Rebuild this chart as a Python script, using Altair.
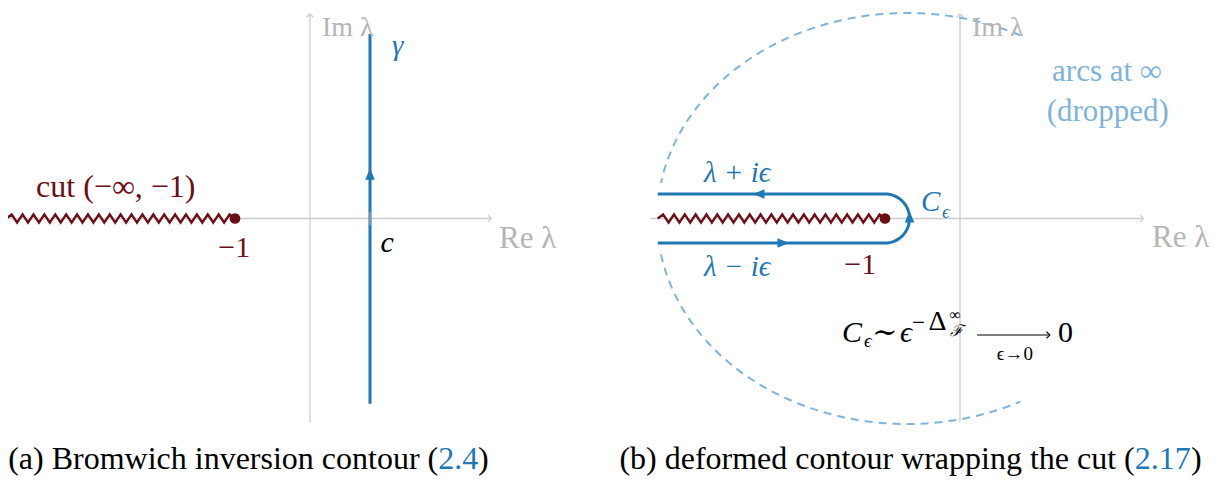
import math
import altair as alt
import pandas as pd

# ---------------- geometry of the page (pixels per math unit) ----------------
PX = 75.0
ORIGIN_A_PX, ORIGIN_B_PX, AXIS_Y_PX = 310.0, 960.0, 218.5
SHIFT_B = (ORIGIN_B_PX - ORIGIN_A_PX) / PX
W, H = 1215, 468
XMIN = (8 - ORIGIN_A_PX) / PX
XMAX = XMIN + W / PX
YMAX = (AXIS_Y_PX - 8) / PX
YMIN = YMAX - H / PX

# ---------------- values (math coordinates of each panel) ----------------
AXIS_PANEL = ["a", "a", "b", "b"]
AXIS_X1 = [-4.2, 0.0, -4.13, 0.0]
AXIS_Y1 = [0.0, -2.72, 0.0, -2.71]
AXIS_X2 = [2.40, 0.0, 2.43, 0.0]
AXIS_Y2 = [0.0, 2.71, 0.0, 2.71]
AXIS_HEAD = ["right", "up", "right", "up"]

C_VALUE = 0.8
BROMWICH_Y = [-2.47, 2.46]
BROMWICH_ARROW_Y = 0.59

BRANCH_POINT = -1.0
CUT_START = {"a": -4.05, "b": -4.03}
CUT_AMPLITUDE = 0.055
CUT_HALF_PERIOD = 0.073

EPS = 0.327
KEYHOLE_START = -4.03
KEYHOLE_ARROWS_X = [-2.68, -2.36, -1.0 + EPS]
KEYHOLE_ARROWS_Y = [EPS, -EPS, 0.02]
KEYHOLE_ARROWS_DIR = ["left", "right", "up"]

ARC_CENTER = (-0.707, 0.0)
ARC_RX, ARC_RY = 3.33, 2.74
ARC_SPANS = [(63, 170), (-170, -63)]

FORMULA_ARROW_X = [0.227, 1.18]
FORMULA_ARROW_Y = -1.553

LABELS = [
    ("a", "Im λ", 0.16, 2.44, "axis_top"),
    ("a", "Re λ", 2.52, -0.27, "axis"),
    ("a", "γ", 1.17, 2.30, "blue_it"),
    ("a", "c", 1.03, -0.33, "black_it"),
    ("a", "cut (−∞, −1)", -2.59, 0.42, "maroon_big"),
    ("a", "−1", -1.01, -0.39, "maroon"),
    ("b", "Im λ", 0.16, 2.44, "axis_top"),
    ("b", "Re λ", 2.56, -0.26, "axis"),
    ("b", "λ + iϵ", -2.97, 0.61, "blue_it"),
    ("b", "λ − iϵ", -2.97, -0.65, "blue_it"),
    ("b", "−1", -1.33, -0.62, "maroon"),
    ("b", "C", -0.39, 0.22, "blue_it"),
    ("b", "ϵ", -0.19, 0.087, "blue_it_small"),
    ("b", "arcs at ∞", 1.96, 1.95, "light"),
    ("b", "(dropped)", 1.97, 1.42, "light"),
    # formula  C_eps ~ eps^{-Delta_F^inf}  -->  0
    ("b", "C", -1.573, -1.64, "f_it"),
    ("b", "ϵ", -1.28, -1.71, "f_sub_it"),
    ("b", "∼", -1.17, -1.64, "f"),
    ("b", "ϵ", -0.80, -1.64, "f_it"),
    ("b", "−", -0.64, -1.48, "f_sup"),
    ("b", "Δ", -0.42, -1.48, "f_sup_big"),
    ("b", "∞", -0.14, -1.353, "f_tiny"),
    ("b", "ℱ", -0.14, -1.567, "f_tiny_it"),
    ("b", "ϵ→0", 0.49, -1.887, "f_under"),
    ("b", "0", 1.307, -1.64, "f"),
    # captions
    ("a", "(a) Bromwich inversion contour (", 1.71, -3.20, "cap_r"),
    ("a", "2.4", 1.71, -3.20, "cap_blue"),
    ("a", ")", 2.24, -3.20, "cap_l"),
    ("b", "(b) deformed contour wrapping the cut (", 2.33, -3.20, "cap_r"),
    ("b", "2.17", 2.33, -3.20, "cap_blue"),
    ("b", ")", 3.08, -3.20, "cap_l"),
]

# ---------------- styles ----------------
FONT = "Liberation Serif, DejaVu Serif, Times New Roman, serif"
BLUE = "#1f77b4"
LIGHT_BLUE = "#80b3d9"
MAROON = "#6b0e17"
AXIS_GRAY = "#cccccc"
LABEL_GRAY = "#b5b5b5"

STYLES = {
    "axis": dict(color=LABEL_GRAY, size=31, align="left", baseline="middle", fontStyle="normal"),
    "axis_top": dict(color=LABEL_GRAY, size=28, align="left", baseline="alphabetic", fontStyle="normal"),
    "blue_it": dict(color=BLUE, size=29, align="center", baseline="middle", fontStyle="italic"),
    "blue_it_small": dict(color=BLUE, size=19, align="center", baseline="middle", fontStyle="italic"),
    "black_it": dict(color="black", size=30, align="center", baseline="middle", fontStyle="italic"),
    "maroon": dict(color=MAROON, size=30, align="center", baseline="middle", fontStyle="normal"),
    "maroon_big": dict(color=MAROON, size=32, align="center", baseline="middle", fontStyle="normal"),
    "light": dict(color=LIGHT_BLUE, size=31, align="center", baseline="middle", fontStyle="normal"),
    "f": dict(color="black", size=30, align="left", baseline="alphabetic", fontStyle="normal"),
    "f_it": dict(color="black", size=30, align="left", baseline="alphabetic", fontStyle="italic"),
    "f_sub_it": dict(color="black", size=19, align="left", baseline="alphabetic", fontStyle="italic"),
    "f_sup": dict(color="black", size=23, align="left", baseline="alphabetic", fontStyle="normal"),
    "f_sup_big": dict(color="black", size=28, align="left", baseline="alphabetic", fontStyle="normal"),
    "f_tiny": dict(color="black", size=16, align="left", baseline="alphabetic", fontStyle="normal"),
    "f_tiny_it": dict(color="black", size=16, align="left", baseline="alphabetic", fontStyle="italic"),
    "f_under": dict(color="black", size=19, align="left", baseline="alphabetic", fontStyle="normal"),
    "cap_r": dict(color="black", size=32, align="right", baseline="middle", fontStyle="normal"),
    "cap_l": dict(color="black", size=32, align="left", baseline="middle", fontStyle="normal"),
    "cap_blue": dict(color=BLUE, size=32, align="left", baseline="middle", fontStyle="normal"),
}

HEAD_PATHS = {
    "right": "M-0.6,-1L0.4,0L-0.6,1",
    "up": "M-1,0.6L0,-0.4L1,0.6",
}
TRI_PATHS = {
    "up": "M0,-1L0.78,0.9L-0.78,0.9Z",
    "left": "M-1,0L0.9,-0.78L0.9,0.78Z",
    "right": "M1,0L-0.9,-0.78L-0.9,0.78Z",
}


def shift(panel, x):
    return x + (SHIFT_B if panel == "b" else 0.0)


XS = alt.Scale(domain=[XMIN, XMAX], nice=False, zero=False)
YS = alt.Scale(domain=[YMIN, YMAX], nice=False, zero=False)
X = alt.X("x:Q", scale=XS, axis=None)
Y = alt.Y("y:Q", scale=YS, axis=None)

layers = []

# axes
axes_df = pd.DataFrame({
    "x": [shift(p, v) for p, v in zip(AXIS_PANEL, AXIS_X1)],
    "y": AXIS_Y1,
    "x2": [shift(p, v) for p, v in zip(AXIS_PANEL, AXIS_X2)],
    "y2": AXIS_Y2,
    "head": AXIS_HEAD,
})
layers.append(alt.Chart(axes_df).mark_rule(color=AXIS_GRAY, strokeWidth=1.3).encode(
    x=X, y=Y, x2="x2:Q", y2="y2:Q"))
for d in ["right", "up"]:
    sub = axes_df[axes_df["head"] == d]
    layers.append(alt.Chart(sub).mark_point(
        shape=HEAD_PATHS[d], filled=False, stroke=AXIS_GRAY, strokeWidth=1.3, size=45, opacity=1
    ).encode(x=alt.X("x2:Q", scale=XS, axis=None), y=alt.Y("y2:Q", scale=YS, axis=None)))

# dashed arcs at infinity
arc_rows = []
for k, (a0, a1) in enumerate(ARC_SPANS):
    n = 80
    for i in range(n + 1):
        t = math.radians(a0 + (a1 - a0) * i / n)
        arc_rows.append({"x": shift("b", ARC_CENTER[0] + ARC_RX * math.cos(t)),
                         "y": ARC_CENTER[1] + ARC_RY * math.sin(t), "g": k, "o": i})
layers.append(alt.Chart(pd.DataFrame(arc_rows)).mark_line(
    color=LIGHT_BLUE, strokeWidth=2, strokeDash=[8, 6]).encode(
    x=X, y=Y, detail="g:N", order="o:Q"))

# Bromwich line (panel a)
brom_df = pd.DataFrame({"x": [C_VALUE], "y": [BROMWICH_Y[0]], "y2": [BROMWICH_Y[1]]})
layers.append(alt.Chart(brom_df).mark_rule(color=BLUE, strokeWidth=3).encode(x=X, y=Y, y2="y2:Q"))

# keyhole contour (panel b)
key_rows = [(KEYHOLE_START, EPS), (BRANCH_POINT, EPS)]
for i in range(1, 40):
    t = math.pi / 2 - math.pi * i / 40
    key_rows.append((BRANCH_POINT + EPS * math.cos(t), EPS * math.sin(t)))
key_rows += [(BRANCH_POINT, -EPS), (KEYHOLE_START, -EPS)]
key_df = pd.DataFrame({"x": [shift("b", p[0]) for p in key_rows],
                       "y": [p[1] for p in key_rows],
                       "o": list(range(len(key_rows)))})
layers.append(alt.Chart(key_df).mark_line(color=BLUE, strokeWidth=3, strokeJoin="round").encode(
    x=X, y=Y, order="o:Q"))

# small tick at c on the real axis
tick_df = pd.DataFrame({"x": [C_VALUE], "y": [-0.09], "y2": [0.09]})
layers.append(alt.Chart(tick_df).mark_rule(color="#c9b9a8", strokeWidth=1).encode(x=X, y=Y, y2="y2:Q"))

# branch cuts (zigzag)
zz_rows = []
for p in ["a", "b"]:
    x0, x1 = CUT_START[p], BRANCH_POINT
    n = int(round((x1 - x0) / CUT_HALF_PERIOD))
    for i in range(n + 1):
        yv = 0.0 if i in (0, n) else (CUT_AMPLITUDE if i % 2 else -CUT_AMPLITUDE)
        zz_rows.append({"x": shift(p, x0 + (x1 - x0) * i / n), "y": yv, "g": p, "o": i})
layers.append(alt.Chart(pd.DataFrame(zz_rows)).mark_line(
    color=MAROON, strokeWidth=2.4, strokeJoin="miter").encode(x=X, y=Y, detail="g:N", order="o:Q"))

# branch points
bp_df = pd.DataFrame({"x": [shift("a", BRANCH_POINT), shift("b", BRANCH_POINT)], "y": [0.0, 0.0]})
layers.append(alt.Chart(bp_df).mark_point(shape="circle", filled=True, color=MAROON, size=115, opacity=1).encode(x=X, y=Y))

# direction arrows on contours
arr_df = pd.DataFrame({
    "x": [C_VALUE] + [shift("b", v) for v in KEYHOLE_ARROWS_X],
    "y": [BROMWICH_ARROW_Y] + KEYHOLE_ARROWS_Y,
    "d": ["up"] + KEYHOLE_ARROWS_DIR,
})
for d in ["up", "left", "right"]:
    sub = arr_df[arr_df["d"] == d]
    layers.append(alt.Chart(sub).mark_point(shape=TRI_PATHS[d], filled=True, color=BLUE,
                                            size=150, opacity=1).encode(x=X, y=Y))

# formula arrow
fa_df = pd.DataFrame({"x": [shift("b", FORMULA_ARROW_X[0])], "x2": [shift("b", FORMULA_ARROW_X[1])],
                      "y": [FORMULA_ARROW_Y]})
layers.append(alt.Chart(fa_df).mark_rule(color="black", strokeWidth=1.2).encode(x=X, x2="x2:Q", y=Y))
layers.append(alt.Chart(fa_df).mark_point(shape=HEAD_PATHS["right"], filled=False, stroke="black",
                                          strokeWidth=1.2, size=45, opacity=1).encode(
    x=alt.X("x2:Q", scale=XS, axis=None), y=Y))

# text labels
lab_df = pd.DataFrame(LABELS, columns=["panel", "t", "x", "y", "style"])
lab_df["x"] = [shift(p, v) for p, v in zip(lab_df["panel"], lab_df["x"])]
for key, st in STYLES.items():
    sub = lab_df[lab_df["style"] == key]
    if len(sub) == 0:
        continue
    layers.append(alt.Chart(sub).mark_text(
        font=FONT, fontSize=st["size"], color=st["color"], align=st["align"],
        baseline=st["baseline"], fontStyle=st["fontStyle"]).encode(x=X, y=Y, text="t:N"))

chart = alt.layer(*layers).properties(
    width=W, height=H, autosize=alt.AutoSizeParams(type="none"), padding=0, background="white"
).configure_view(stroke=None)

chart.save("out.html", embed_options={"renderer": "svg", "actions": False})
